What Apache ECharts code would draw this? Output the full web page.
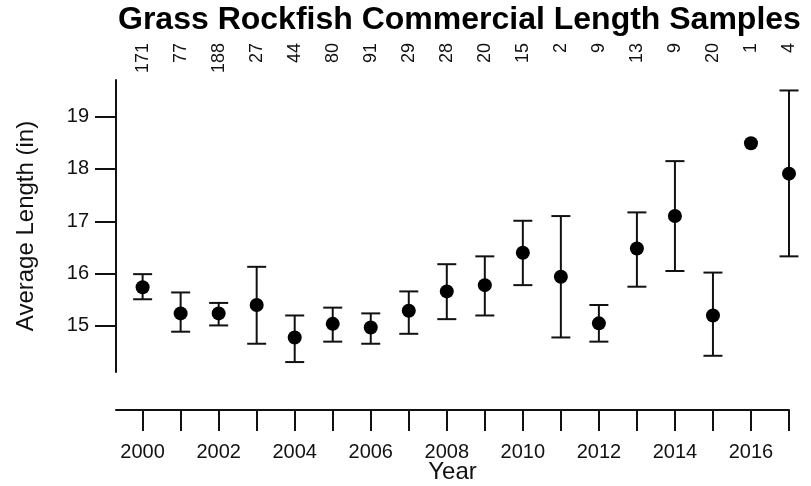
<!DOCTYPE html>
<html>
<head>
<meta charset="utf-8">
<script src="https://cdn.jsdelivr.net/npm/echarts@6/dist/echarts.min.js"></script>
<style>
  html, body { margin: 0; padding: 0; background: #ffffff; }
  #chart { width: 811px; height: 486px; }
</style>
</head>
<body>
<div id="chart"></div>
<script>
// Commercial length samples of grass rockfish, by year
var years = [2000, 2001, 2002, 2003, 2004, 2005, 2006, 2007, 2008,
             2009, 2010, 2011, 2012, 2013, 2014, 2015, 2016, 2017];
var meanLength = [15.74, 15.24, 15.24, 15.40, 14.78, 15.04, 14.97, 15.29, 15.66,
                  15.78, 16.40, 15.94, 15.05, 16.48, 17.10, 15.20, 18.49, 17.91];
var upperLength = [15.99, 15.64, 15.44, 16.13, 15.20, 15.35, 15.24, 15.66, 16.18,
                   16.33, 17.01, 17.10, 15.40, 17.17, 18.15, 16.02, null, 19.50];
var lowerLength = [15.51, 14.89, 15.01, 14.66, 14.31, 14.70, 14.66, 14.85, 15.13,
                   15.20, 15.78, 14.78, 14.70, 15.75, 16.05, 14.43, null, 16.33];
var sampleCounts = [171, 77, 188, 27, 44, 80, 91, 29, 28,
                    20, 15, 2, 9, 13, 9, 20, 1, 4];
var yTicks = [15, 16, 17, 18, 19];
var xLabelYears = [2000, 2002, 2004, 2006, 2008, 2010, 2012, 2014, 2016];

var FONT = '"Liberation Sans", Arial, sans-serif';
var INK = '#111111';

var meanPoints = years.map(function (y, i) { return [y, meanLength[i]]; });
var barData = [];
years.forEach(function (y, i) {
  if (upperLength[i] != null && lowerLength[i] != null) {
    barData.push([y, lowerLength[i], upperLength[i]]);
  }
});

var chart = echarts.init(document.getElementById('chart'), null, { renderer: 'canvas' });

chart.setOption({
  backgroundColor: '#ffffff',
  animation: false,
  title: {
    text: 'Grass Rockfish Commercial Length Samples',
    left: 118,
    top: 4,
    padding: 0,
    textStyle: { fontFamily: FONT, fontWeight: 'bold', fontSize: 32, color: '#000000' }
  },
  grid: { left: 116, top: 80, width: 673, height: 292, containLabel: false, outerBoundsMode: 'none' },
  xAxis: [
    {
      type: 'value',
      position: 'bottom',
      min: 1999.3,
      max: 2017,
      offset: 38,
      splitLine: { show: false },
      axisLine: { show: true, lineStyle: { color: INK, width: 2 } },
      axisTick: { show: true, length: 21, lineStyle: { color: INK, width: 2 }, customValues: years },
      axisLabel: {
        customValues: xLabelYears,
        margin: 32,
        fontFamily: FONT, fontSize: 20, color: INK,
        formatter: function (v) { return String(v); }
      },
      name: 'Year',
      nameLocation: 'middle',
      nameGap: 50,
      nameMoveOverlap: false,
      nameTextStyle: { fontFamily: FONT, fontSize: 24, color: INK }
    },
    {
      type: 'value',
      position: 'top',
      min: 1999.3,
      max: 2017,
      offset: 37,
      splitLine: { show: false },
      axisLine: { show: false },
      axisTick: { show: false },
      axisLabel: {
        customValues: years,
        inside: true,
        rotate: -90,
        margin: 0,
        fontFamily: FONT, fontSize: 18, color: INK,
        formatter: function (v) {
          var i = years.indexOf(Math.round(v));
          return i >= 0 ? String(sampleCounts[i]) : '';
        }
      }
    }
  ],
  yAxis: {
    type: 'value',
    min: 14.12,
    max: 19.7,
    splitLine: { show: false },
    axisLine: { show: true, lineStyle: { color: INK, width: 2 } },
    axisTick: { show: true, length: 21, lineStyle: { color: INK, width: 2 }, customValues: yTicks },
    axisLabel: {
      customValues: yTicks,
      margin: 27,
      fontFamily: FONT, fontSize: 20, color: INK
    },
    name: 'Average Length (in)',
    nameLocation: 'middle',
    nameGap: 78,
    nameMoveOverlap: false,
    nameTextStyle: { fontFamily: FONT, fontSize: 24, color: INK }
  },
  series: [
    {
      type: 'custom',
      xAxisIndex: 0,
      clip: false,
      data: barData,
      renderItem: function (params, api) {
        var x = api.value(0);
        var lo = api.coord([x, api.value(1)]);
        var hi = api.coord([x, api.value(2)]);
        var half = 9.5;
        var style = { stroke: INK, lineWidth: 2 };
        return {
          type: 'group',
          children: [
            { type: 'line', shape: { x1: lo[0], y1: lo[1], x2: hi[0], y2: hi[1] }, style: style },
            { type: 'line', shape: { x1: hi[0] - half, y1: hi[1], x2: hi[0] + half, y2: hi[1] }, style: style },
            { type: 'line', shape: { x1: lo[0] - half, y1: lo[1], x2: lo[0] + half, y2: lo[1] }, style: style }
          ]
        };
      },
      z: 2
    },
    {
      type: 'scatter',
      xAxisIndex: 0,
      data: meanPoints,
      symbol: 'circle',
      symbolSize: 14,
      itemStyle: { color: '#000000', opacity: 1 },
      z: 3
    }
  ]
});
</script>
</body>
</html>
